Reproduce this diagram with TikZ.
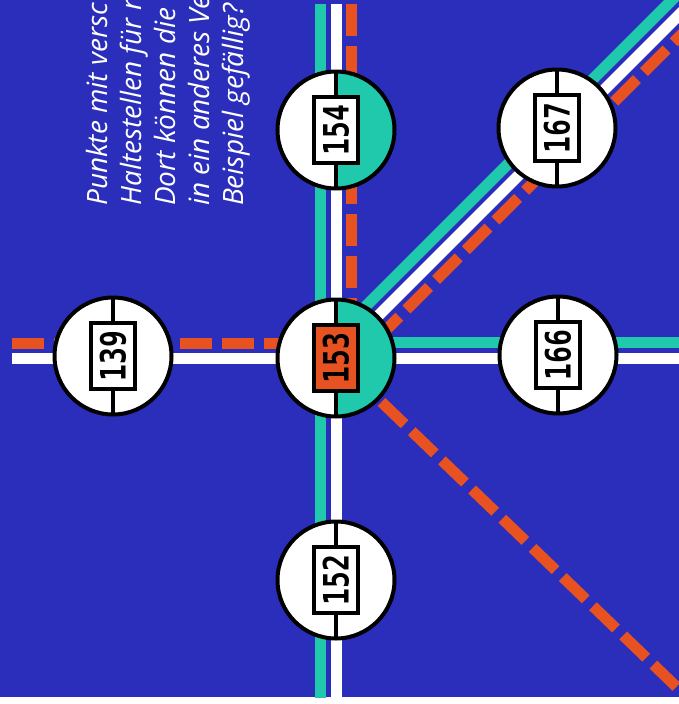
\documentclass[tikz,border=0pt]{standalone}
\usepackage{fontspec}
\usetikzlibrary{calc}
\newfontfamily\captfont{Open Sans}
\newfontfamily\numfont{DejaVu Sans Mono}
\definecolor{bgblue}{RGB}{42,46,186}
\definecolor{tealc}{RGB}{32,200,172}
\definecolor{orng}{RGB}{232,82,32}
\tikzset{
  tealline/.style={draw=tealc, line width=11pt},
  whiteline/.style={draw=white, line width=11pt},
  orangeline/.style={draw=orng, line width=11pt, dash pattern=on 32pt off 10pt},
  stopc/.style={circle, draw=black, line width=4pt, fill=white, minimum size=117pt, inner sep=0pt,
    path picture={\draw[black, line width=4pt] (path picture bounding box.north) -- (path picture bounding box.south);}},
  halfteal/.style={path picture={
    \fill[tealc] (path picture bounding box.north) rectangle (path picture bounding box.south east);
    \draw[black, line width=4pt] (path picture bounding box.north) -- (path picture bounding box.south);}},
  numbox/.style={draw=black, line width=4pt, fill=white, minimum width=44pt, minimum height=66pt, inner sep=0pt,
    font=\numfont\bfseries\fontsize{35}{35}\selectfont},
  caption/.style={rotate=90, anchor=base west, text=white, inner sep=0pt,
    font=\captfont\itshape\fontsize{28}{28}\selectfont}
}
\newcommand{\stopnum}[1]{\rotatebox{90}{\scalebox{0.8}[1]{#1}}}
\begin{document}
\begin{tikzpicture}[x=1pt,y=-1pt]
\useasboundingbox (0,0) rectangle (679,704);
\fill[white] (0,0) rectangle (679,704);
\fill[bgblue] (0,0) rectangle (679,697);
\begin{scope}
\clip (0,0) rectangle (679,697);
% positions
\coordinate (p153) at (336,358);
\coordinate (p154) at (336,130);
\coordinate (p152) at (336,580);
\coordinate (p139) at (113,356);
\coordinate (p166) at (558,355);
\coordinate (p167) at (557,128);
\coordinate (vt) at (336,4);
\coordinate (vb) at (336,700);
\coordinate (hl) at (12,358);
\coordinate (hr) at (690,358);
\coordinate (dtr) at (740,-46);
\coordinate (dbr) at (690,700);
% caption
\node[caption] (t1) at (107,206) {Punkte mit versc};
\node[caption] (t2) at (141,206) {Haltestellen für n};
\node[caption] (t3) at (175,206) {Dort können die};
\node[caption] (t4) at (209,206) {in ein anderes Ve};
\node[caption] (t5) at (243,206) {Beispiel gefällig?};
% vertical line
\draw[tealline] ([xshift=-16pt]vt) -- ([xshift=-16pt]vb);
\draw[whiteline] (vt) -- (vb);
\draw[orangeline] ([xshift=15pt]vt) -- ([xshift=15pt]p153);
% horizontal left
\draw[whiteline] (hl) -- (p153);
\draw[orangeline] ([yshift=15pt]hl) -- ([yshift=15pt]p153);
% horizontal right
\draw[tealline] ([yshift=16pt]p153) -- ([yshift=16pt]hr);
\draw[whiteline] (p153) -- (hr);
% diagonal up right
\draw[tealline] ([xshift=-11pt,yshift=11pt]p153) -- ([xshift=-11pt,yshift=11pt]dtr);
\draw[whiteline] (p153) -- (dtr);
\draw[orangeline] ([xshift=11pt,yshift=-11pt]p153) -- ([xshift=11pt,yshift=-11pt]dtr);
% diagonal down right
\draw[orangeline, dash phase=20.7pt] (p153) -- (dbr);
\end{scope}
% stops
\node[stopc] (n139) at (p139) {};
\node[stopc] (n152) at (p152) {};
\node[stopc] (n166) at (p166) {};
\node[stopc] (n167) at (p167) {};
\node[stopc, halfteal] (n154) at (p154) {};
\node[stopc, halfteal] (n153) at (p153) {};
\node[numbox] (b139) at (p139) {\stopnum{139}};
\node[numbox] (b152) at (p152) {\stopnum{152}};
\node[numbox] (b166) at (p166) {\stopnum{166}};
\node[numbox] (b167) at (p167) {\stopnum{167}};
\node[numbox] (b154) at (p154) {\stopnum{154}};
\node[numbox, fill=orng] (b153) at (p153) {\stopnum{153}};
\end{tikzpicture}
\end{document}
